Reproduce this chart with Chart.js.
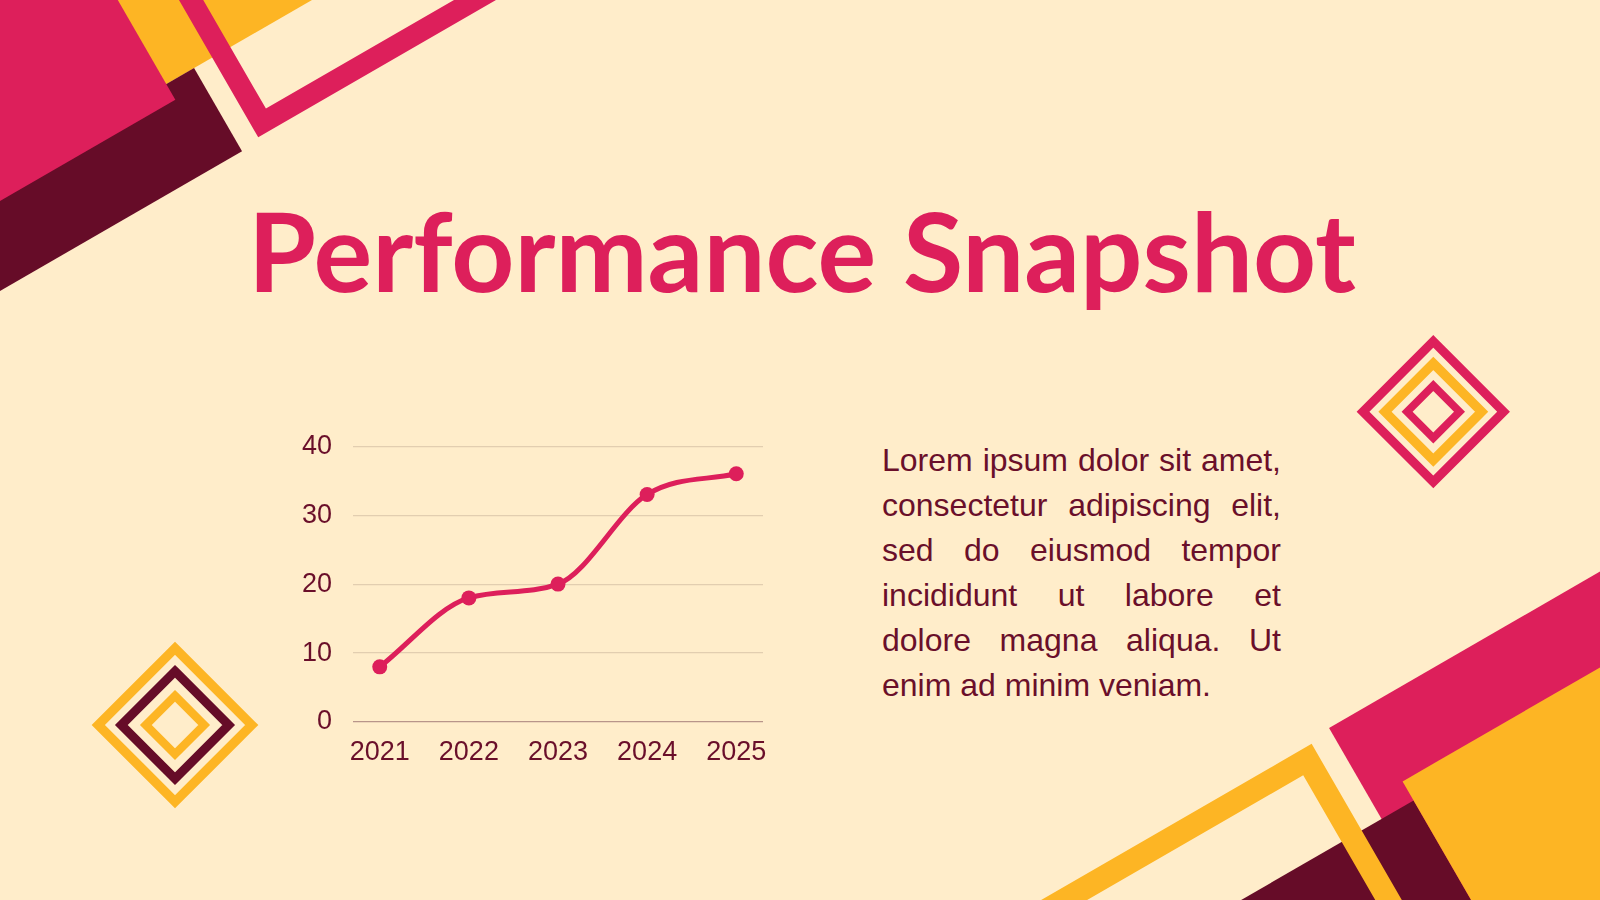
<!DOCTYPE html>
<html>
<head>
<meta charset="utf-8">
<title>Performance Snapshot</title>
<script src="https://cdn.jsdelivr.net/npm/chart.js@4.4.1/dist/chart.umd.min.js"></script>
<style>
  html, body { margin: 0; padding: 0; }
  body { width: 1600px; height: 900px; overflow: hidden; background: #FFEDCA; position: relative; }
  #deco { position: absolute; left: 0; top: 0; }
  #title {
    position: absolute; left: 0; width: 1604px; top: 189px; margin: 0;
    text-align: center; font-family: Lato, sans-serif; font-weight: 700;
    font-size: 110px; line-height: 120px; color: #DD1F5B; white-space: nowrap;
  }
  #chartBox { position: absolute; left: 270px; top: 409px; width: 520px; height: 371px; }
  #blurb {
    position: absolute; left: 882px; top: 438px; width: 399px; margin: 0;
    font-family: "Liberation Sans", Arial, sans-serif; font-size: 32px; line-height: 45.1px;
    color: #6A0F2A; text-align: justify;
  }
</style>
</head>
<body>
<svg id="deco" width="1600" height="900">
  <!-- top left corner -->
  <g transform="rotate(-30)">
    <rect x="-600" y="-600" width="1000" height="756" fill="#FDB524"/>
    <rect x="-600" y="156" width="734" height="96" fill="#660C28"/>
    <rect x="-600" y="-600" width="702" height="774" fill="#DD1F5B"/>
    <rect x="165.5" y="-600" width="2000" height="837.5" fill="none" stroke="#DD1F5B" stroke-width="21"/>
  </g>
  <!-- bottom right corner -->
  <g transform="rotate(-30)">
    <rect x="787" y="1295" width="1000" height="600" fill="#DD1F5B"/>
    <rect x="0" y="1400" width="824" height="500" fill="#660C28"/>
    <rect x="824" y="1378" width="1000" height="600" fill="#FDB524"/>
    <rect x="-1000" y="1311.5" width="1752.5" height="700" fill="none" stroke="#FDB524" stroke-width="23"/>
  </g>
  <!-- right diamond -->
  <g fill="none">
    <polygon points="1433.3,341.4 1503.6,411.7 1433.3,482 1363,411.7" stroke="#DD1F5B" stroke-width="9"/>
    <polygon points="1433.3,363.4 1481.6,411.7 1433.3,460 1385,411.7" stroke="#FDB524" stroke-width="9.4"/>
    <polygon points="1433.3,385.5 1459.5,411.7 1433.3,437.9 1407.1,411.7" stroke="#DD1F5B" stroke-width="7.8"/>
  </g>
  <!-- left diamond -->
  <g fill="none">
    <polygon points="175,648.3 251.7,725 175,801.7 98.3,725" stroke="#FDB524" stroke-width="9.4"/>
    <polygon points="175,671.3 228.7,725 175,778.7 121.3,725" stroke="#660C28" stroke-width="9"/>
    <polygon points="175,695.8 204.2,725 175,754.2 145.8,725" stroke="#FDB524" stroke-width="8.3"/>
  </g>
</svg>

<h1 id="title">Performance Snapshot</h1>

<div id="chartBox"><canvas id="perfChart"></canvas></div>

<p id="blurb">Lorem ipsum dolor sit amet, consectetur adipiscing elit, sed do eiusmod tempor incididunt ut labore et dolore magna aliqua. Ut enim ad minim veniam.</p>

<script>
// chart data
const years = [2021, 2022, 2023, 2024, 2025];
const scores = [8, 18, 20, 33, 36];
const yTicks = [0, 10, 20, 30, 40];

const pink = '#DD1F5B';
const maroon = '#6A0F2A';

document.addEventListener("DOMContentLoaded", function () {
  const ctx = document.getElementById("perfChart");

  new Chart(ctx, {
    type: 'line',
    data: {
      datasets: [{
        label: 'Performance',
        data: years.map((yr, i) => ({ x: yr, y: scores[i] })),
        borderColor: pink,
        backgroundColor: pink,
        borderWidth: 5,
        pointRadius: 7.5,
        pointHoverRadius: 7.5,
        pointBackgroundColor: pink,
        pointBorderWidth: 0,
        cubicInterpolationMode: 'monotone',
        fill: false,
      }]
    },
    options: {
      responsive: true,
      maintainAspectRatio: false,
      animation: false,
      layout: { padding: { top: 15, right: 27, left: 0, bottom: 0 } },
      plugins: {
        legend: { display: false },
        tooltip: { enabled: false }
      },
      scales: {
        x: {
          type: 'linear',
          min: 2020.7,
          max: 2025.3,
          afterBuildTicks: function (scale) {
            scale.ticks = years.map(v => ({ value: v }));
          },
          afterFit: function (scale) { scale.height = 58; },
          grid: { display: false, drawTicks: false },
          border: { display: false },
          ticks: {
            padding: 14,
            color: maroon,
            font: { family: 'Liberation Sans', size: 27 },
            callback: v => String(v)
          }
        },
        y: {
          min: 0,
          max: 40,
          afterBuildTicks: function (scale) {
            scale.ticks = yTicks.map(v => ({ value: v }));
          },
          afterFit: function (scale) { scale.width = 83; },
          grid: {
            drawTicks: false,
            lineWidth: 1.2,
            color: c => (c.tick && c.tick.value === 0) ? '#B8958A' : '#E2CEB0'
          },
          border: { display: false },
          ticks: {
            padding: 21,
            color: maroon,
            font: { family: 'Liberation Sans', size: 27 }
          }
        }
      }
    }
  });
});
</script>
</body>
</html>
